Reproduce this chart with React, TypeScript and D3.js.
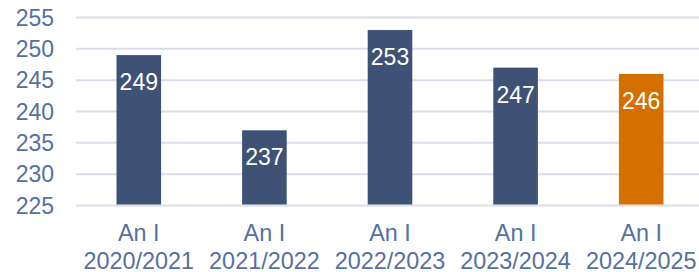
import * as d3 from "d3";

const years = ["2020/2021", "2021/2022", "2022/2023", "2023/2024", "2024/2025"];
const prefix = "An I";
const values = [249, 237, 253, 247, 246];
const yTicks = [225, 230, 235, 240, 245, 250, 255];

const width = 699;
const height = 272;
const marginLeft = 76;
const marginRight = -5;
const yTop = 17.5;
const yBottom = 205.5;

const blue = "#3f5276";
const orange = "#d46f00";
const axisText = "#5570a1";
const grid = "#d9deea";

export default function App() {
  const x = d3
    .scaleBand<string>()
    .domain(years)
    .range([marginLeft, width - marginRight])
    .paddingInner(0.645)
    .paddingOuter(0.3225);
  const y = d3.scaleLinear().domain([225, 255]).range([yBottom, yTop]);

  return (
    <svg
      width={width}
      height={height}
      style={{ position: "absolute", left: 0, top: 0, fontFamily: "Liberation Sans, Arial, sans-serif" }}
    >
      {yTicks.map((t) => (
        <g key={t}>
          <line x1={marginLeft} x2={width} y1={y(t)} y2={y(t)} stroke={grid} strokeWidth={2} />
          <text x={54} y={y(t)} dy="0.35em" textAnchor="end" fontSize={23} fill={axisText}>
            {t}
          </text>
        </g>
      ))}
      {years.map((yr, i) => {
        const x0 = x(yr)!;
        const cx = x0 + x.bandwidth() / 2;
        const top = y(values[i]);
        return (
          <g key={yr}>
            <rect
              x={x0}
              y={top}
              width={x.bandwidth()}
              height={y(225) - top - 1}
              fill={i === years.length - 1 ? orange : blue}
            />
            <text x={cx} y={top + 35} textAnchor="middle" fontSize={23} fill="#ffffff">
              {values[i]}
            </text>
            <text x={cx} y={241} textAnchor="middle" fontSize={23.4} fill={axisText}>
              {prefix}
            </text>
            <text x={cx} y={269} textAnchor="middle" fontSize={23.4} fill={axisText}>
              {yr}
            </text>
          </g>
        );
      })}
    </svg>
  );
}
